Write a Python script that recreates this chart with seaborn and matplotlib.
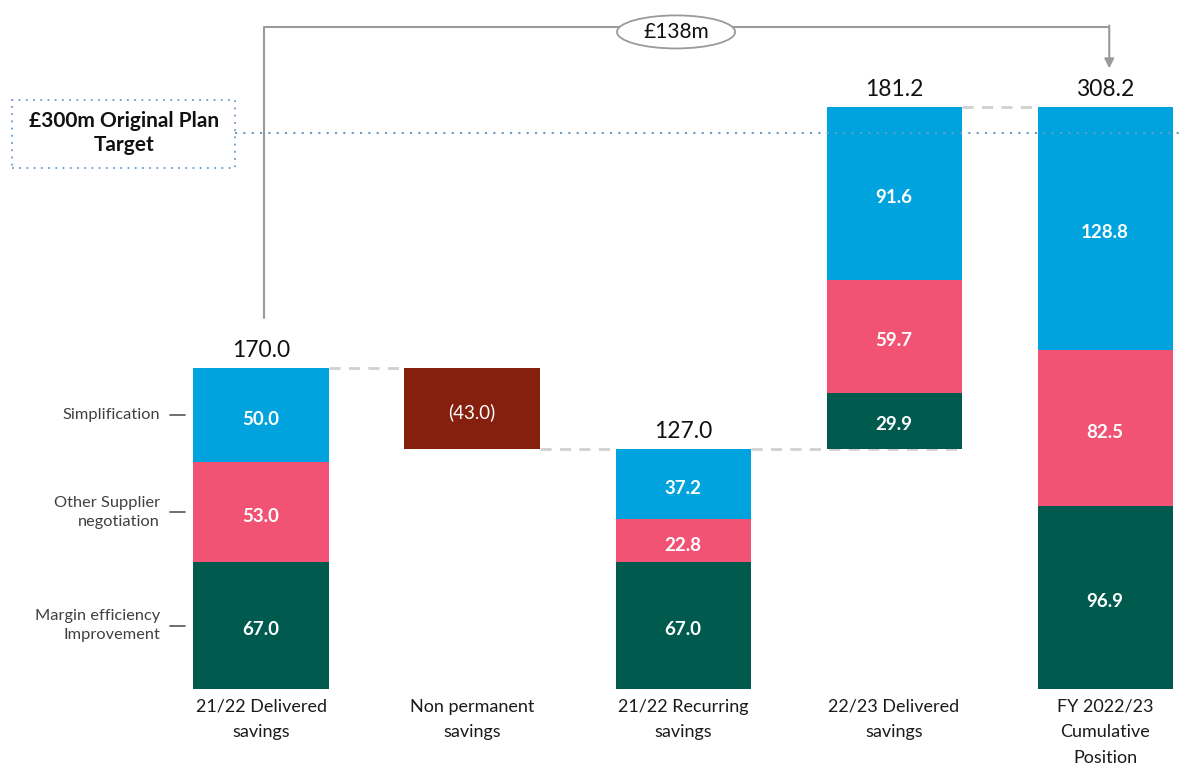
import matplotlib
matplotlib.use("Agg")
import matplotlib.pyplot as plt
from matplotlib.patches import Ellipse, Rectangle
import seaborn as sns
import pandas as pd
import numpy as np

# ---- data ----
categories = ["21/22 Delivered\nsavings", "Non permanent\nsavings", "21/22 Recurring\nsavings",
              "22/23 Delivered\nsavings", "FY 2022/23\nCumulative\nPosition"]
margin_eff = [67.0, np.nan, 67.0, 29.9, 96.9]
supplier = [53.0, np.nan, 22.8, 59.7, 82.5]
simplification = [50.0, np.nan, 37.2, 91.6, 128.8]
non_permanent = [np.nan, -43.0, np.nan, np.nan, np.nan]
start_base = [0.0, 170.0, 0.0, 127.0, 0.0]
totals = [170.0, np.nan, 127.0, 181.2, 308.2]
segment_names = ["Margin efficiency\nImprovement", "Other Supplier\nnegotiation", "Simplification"]
target_value = 294.3
target_label = "£300m Original Plan\nTarget"
bridge_label = "£138m"

# ---- style ----
sns.set_theme(style="white")
plt.rcParams["font.family"] = ["Lato", "DejaVu Sans"]

c_green = "#005A4E"
c_pink = "#F25374"
c_blue = "#00A3DE"
c_red = "#86200E"
c_dash = "#D0D0D0"
c_grey = "#9A9A9A"

fig = plt.figure(figsize=(11.81, 7.67), dpi=100)
ax = fig.add_axes([0, 78 / 767, 1, 689 / 767])

W = 0.64
n = len(categories)

# stack bottoms
b_green = np.array(start_base)
b_pink = b_green + np.nan_to_num(margin_eff)
b_blue = b_pink + np.nan_to_num(supplier)

layers = [(margin_eff, b_green, c_green), (supplier, b_pink, c_pink),
          (simplification, b_blue, c_blue)]
for vals, bottoms, col in layers:
    idx = [i for i in range(n) if not np.isnan(vals[i])]
    df = pd.DataFrame({"cat": [categories[i] for i in idx], "val": [vals[i] for i in idx]})
    sns.barplot(data=df, x="cat", y="val", order=categories, color=col, saturation=1,
                width=W, errorbar=None, bottom=[bottoms[i] for i in idx], ax=ax,
                linewidth=0, zorder=2)

# non permanent (floating negative)
idx = [i for i in range(n) if not np.isnan(non_permanent[i])]
df = pd.DataFrame({"cat": [categories[i] for i in idx], "val": [-non_permanent[i] for i in idx]})
sns.barplot(data=df, x="cat", y="val", order=categories, color=c_red, saturation=1,
            width=W, errorbar=None,
            bottom=[start_base[i] + non_permanent[i] for i in idx], ax=ax, linewidth=0, zorder=2)

ax.set_xlim(-1.237, 4.36)
ax.set_ylim(0, 364.7)
for s in ax.spines.values():
    s.set_visible(False)
ax.set_yticks([])
ax.set_xlabel("")
ax.set_ylabel("")
ax.tick_params(axis="x", length=0, pad=7, labelsize=13, labelcolor="#1a1a1a")
ax.set_xticks(range(n))
ax.set_xticklabels(categories, linespacing=1.75)

# segment value labels
def seg_label(x, y, s, weight="bold"):
    ax.annotate(s, (x, y), xytext=(0, -3), textcoords="offset points", ha="center",
                va="center", color="white", fontsize=13.5, fontweight=weight, zorder=4)

for i in range(n):
    for vals, bottoms in [(margin_eff, b_green), (supplier, b_pink), (simplification, b_blue)]:
        if not np.isnan(vals[i]):
            seg_label(i, bottoms[i] + vals[i] / 2, f"{vals[i]:.1f}")
    if not np.isnan(non_permanent[i]):
        seg_label(i, start_base[i] + non_permanent[i] / 2, f"({-non_permanent[i]:.1f})",
                  weight="normal")
    if not np.isnan(totals[i]):
        top = start_base[i] + totals[i]
        ax.annotate(f"{totals[i]:.1f}", (i, top), xytext=(0, 5), textcoords="offset points",
                    ha="center", va="bottom", fontsize=16.5, color="#111111")

# dashed connectors
h = W / 2
def dash(x0, x1, y):
    ax.plot([x0, x1], [y, y], color=c_dash, lw=2, ls=(0, (4, 3)), zorder=1)
dash(0 + h, 1 - h, 170.0)
dash(1 + h, 2 - h, 127.0)
dash(2 + h, 3 + h, 127.0)
dash(3 + h, 4 - h, 308.2)

# left segment labels for first bar
seg_vals = [margin_eff[0], supplier[0], simplification[0]]
cum = 0
for name, v in zip(segment_names, seg_vals):
    yc = cum + v / 2
    cum += v
    ax.text(-0.479, yc, name, ha="right", va="center", fontsize=11.8, color="#404040",
            linespacing=1.45)
    ax.plot([-0.431, -0.36], [yc, yc], color="#555555", lw=1.2)

# target line and box
ax.plot([-0.123, 4.36], [target_value, target_value], color="#6A9BCB", lw=1.5,
        ls=(0, (1, 3)), zorder=3)
ax.add_patch(Rectangle((-1.18, 275.8), 1.057, 36.0, fill=False, ec="#6A9BCB", lw=1.3,
                       ls=(0, (1, 3)), zorder=3))
ax.text(-0.651, target_value, target_label, ha="center", va="center", fontsize=15,
        fontweight="bold", color="#111111", linespacing=1.2)

# bridge bracket
ax.plot([0.014, 0.014, 4.02], [196.4, 350.5, 350.5], color=c_grey, lw=1.5, zorder=1)
ax.annotate("", xy=(4.02, 328.5), xytext=(4.02, 351.2),
            arrowprops=dict(arrowstyle="-|>", color=c_grey, lw=1.5, mutation_scale=14,
                            shrinkA=0, shrinkB=0))
ax.add_patch(Ellipse((1.967, 347.8), 0.56, 17.5, facecolor="white", edgecolor=c_grey,
                     lw=1.3, zorder=3))
ax.text(1.967, 347.8, bridge_label, ha="center", va="center", fontsize=15, color="#111111",
        zorder=4)

fig.savefig("out.png", dpi=100)
